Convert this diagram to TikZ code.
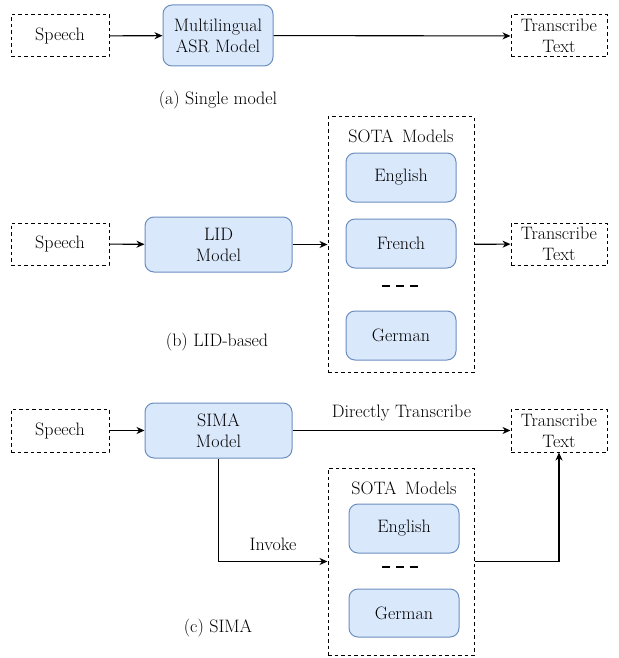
\documentclass[tikz,border=0pt]{standalone}
\usetikzlibrary{arrows.meta}
\definecolor{boxfill}{HTML}{DAE8FC}
\definecolor{boxline}{HTML}{6C8EBF}
\begin{document}
\begin{tikzpicture}[x=1pt,y=-1pt,
  font=\rmfamily\fontsize{18}{21}\selectfont,
  dbox/.style={draw, line width=1pt, dash pattern=on 3.5pt off 3pt, align=center, inner sep=0pt},
  mbox/.style={draw=boxline, fill=boxfill, line width=1pt, rounded corners=9pt, align=center, inner sep=0pt},
  cont/.style={draw, line width=1pt, dash pattern=on 3.5pt off 3pt, inner sep=0pt},
  arr/.style={line width=1.1pt, -{Stealth[length=8pt,width=7pt,inset=2.5pt]}},
  dots/.style={line width=2.6pt, dash pattern=on 8pt off 6pt},
  lbl/.style={inner sep=0pt}]
\useasboundingbox (0,0) rectangle (618,658);
% (a)
\node[dbox, minimum width=98pt, minimum height=42pt] (sa) at (60,36) {Speech};
\node[mbox, minimum width=110pt, minimum height=61pt] (asr) at (218,35.5) {Multilingual\\ASR Model};
\node[dbox, minimum width=96pt, minimum height=42pt] (ta) at (559,36) {Transcribe\\Text};
\node[lbl] (capa) at (218,100) {(a) Single model};
\draw[arr] (sa) -- (asr);
\draw[arr] (asr) -- (ta);
% (b)
\node[dbox, minimum width=98pt, minimum height=42pt] (sb) at (60,244) {Speech};
\node[mbox, minimum width=147pt, minimum height=55pt] (lid) at (218.5,244.5) {LID\\Model};
\node[cont, minimum width=146pt, minimum height=255pt] (cb) at (401,244.5) {};
\node[lbl] (sotab) at (401,136) {SOTA\, Models};
\node[mbox, minimum width=110pt, minimum height=49pt] (engb) at (401,177.5) {English};
\node[mbox, minimum width=110pt, minimum height=49pt] (frb) at (401,243.5) {French};
\coordinate (db1) at (382,286);
\coordinate (db2) at (418,286);
\draw[dots] (db1) -- (db2);
\node[mbox, minimum width=110pt, minimum height=49pt] (gerb) at (401,335.5) {German};
\node[dbox, minimum width=96pt, minimum height=42pt] (tb) at (559,244) {Transcribe\\Text};
\node[lbl] (capb) at (217,342) {(b) LID-based};
\draw[arr] (sb) -- (lid);
\draw[arr] (lid) -- (cb);
\draw[arr] (cb) -- (tb);
% (c)
\node[dbox, minimum width=98pt, minimum height=43pt] (sc) at (60,430.5) {Speech};
\node[mbox, minimum width=147pt, minimum height=55pt] (sima) at (218.5,430.5) {SIMA\\Model};
\node[dbox, minimum width=96pt, minimum height=43pt] (tc) at (559,430.5) {Transcribe\\Text};
\node[cont, minimum width=146pt, minimum height=187pt] (cc) at (401,561.5) {};
\node[lbl] (sotac) at (404,488) {SOTA\, Models};
\node[mbox, minimum width=110pt, minimum height=49pt] (engc) at (404,528.5) {English};
\coordinate (dc1) at (382,567);
\coordinate (dc2) at (420,567);
\draw[dots] (dc1) -- (dc2);
\node[mbox, minimum width=110pt, minimum height=48pt] (gerc) at (404,613) {German};
\node[lbl] (capc) at (218,628) {(c) SIMA};
\draw[arr] (sc) -- (sima);
\draw[arr] (sima) -- node[lbl, above=9pt] {Directly Transcribe} (tc);
\draw[arr] (sima.south) |- node[lbl, pos=0.75, above=10pt] {Invoke} (cc.west);
\draw[arr] (cc.east) -| (tc.south);
\end{tikzpicture}
\end{document}
